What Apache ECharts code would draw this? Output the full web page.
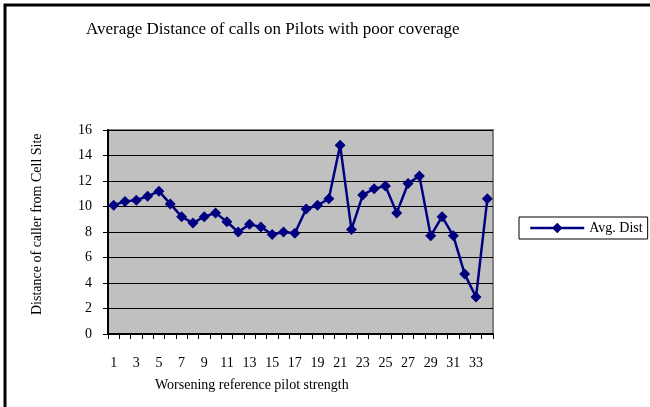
<!DOCTYPE html>
<html>
<head>
<meta charset="utf-8">
<script src="https://cdn.jsdelivr.net/npm/echarts@6/dist/echarts.min.js"></script>
<style>
  html, body { margin: 0; padding: 0; background: #ffffff; }
  #chart { width: 650px; height: 407px; }
</style>
</head>
<body>
<div id="chart"></div>
<script>
// Pilot index (worsening reference pilot strength)
const categories = ['1','2','3','4','5','6','7','8','9','10','11','12','13','14','15','16','17',
                    '18','19','20','21','22','23','24','25','26','27','28','29','30','31','32','33','34'];
// Average distance of caller from the cell site
const avgDist = [10.1, 10.4, 10.5, 10.8, 11.2, 10.2, 9.2, 8.7, 9.2, 9.5, 8.8, 8.0, 8.6, 8.4, 7.8,
                 8.0, 7.9, 9.8, 10.1, 10.6, 14.8, 8.2, 10.9, 11.4, 11.6, 9.5, 11.8, 12.4, 7.7,
                 9.2, 7.7, 4.7, 2.9, 10.6];
const yTicks = { min: 0, max: 16, interval: 2 };

const serif = '"Liberation Serif", "DejaVu Serif", serif';
const chart = echarts.init(document.getElementById('chart'), null, { renderer: 'canvas' });

chart.setOption({
  backgroundColor: '#ffffff',
  animation: false,
  textStyle: { fontFamily: serif, color: '#000' },
  grid: {
    left: 108, top: 130, right: 157, bottom: 73,
    show: true,
    backgroundColor: '#c0c0c0',
    borderColor: '#808080',
    borderWidth: 2
  },
  xAxis: {
    type: 'category',
    data: categories,
    boundaryGap: true,
    axisLine: { lineStyle: { color: '#000', width: 2 } },
    axisTick: { show: true, interval: 0, length: 5, lineStyle: { color: '#000', width: 1 } },
    axisLabel: { interval: 1, margin: 22, fontSize: 14, fontFamily: serif, color: '#000' },
    splitLine: { show: false }
  },
  yAxis: {
    type: 'value',
    min: yTicks.min, max: yTicks.max, interval: yTicks.interval,
    axisLine: { show: true, lineStyle: { color: '#000', width: 2 } },
    axisTick: { show: true, length: 5, lineStyle: { color: '#000', width: 1 } },
    axisLabel: { margin: 16, fontSize: 14, fontFamily: serif, color: '#000' },
    splitLine: { show: true, lineStyle: { color: '#000', width: 1 } }
  },
  legend: {
    orient: 'vertical',
    left: 519, top: 217,
    padding: [4, 5, 4, 10],
    itemGap: 0,
    itemWidth: 54, itemHeight: 13,
    borderColor: '#000', borderWidth: 1,
    backgroundColor: '#fff',
    lineStyle: { width: 2.5 },
    textStyle: { fontSize: 14, fontFamily: serif, color: '#000' },
    data: ['Avg. Dist']
  },
  graphic: [
    {
      type: 'rect',
      shape: { x: 5, y: 5, width: 700, height: 460 },
      style: { fill: 'none', stroke: '#000', lineWidth: 3 },
      silent: true
    },
    {
      type: 'text',
      left: 86, top: 21,
      style: { text: 'Average Distance of calls on Pilots with poor coverage', font: '17px ' + serif, fill: '#000' }
    },
    {
      type: 'text',
      x: 155, y: 378,
      style: { text: 'Worsening reference pilot strength', font: '14px ' + serif, fill: '#000' }
    },
    {
      type: 'text',
      x: 30, y: 315,
      rotation: Math.PI / 2,
      style: { text: 'Distance of caller from Cell Site', font: '14px ' + serif, fill: '#000' }
    }
  ],
  series: [{
    name: 'Avg. Dist',
    type: 'line',
    data: avgDist,
    symbol: 'diamond',
    symbolSize: 11,
    showAllSymbol: true,
    lineStyle: { color: '#000080', width: 2.5 },
    itemStyle: { color: '#000080' }
  }]
});
</script>
</body>
</html>
